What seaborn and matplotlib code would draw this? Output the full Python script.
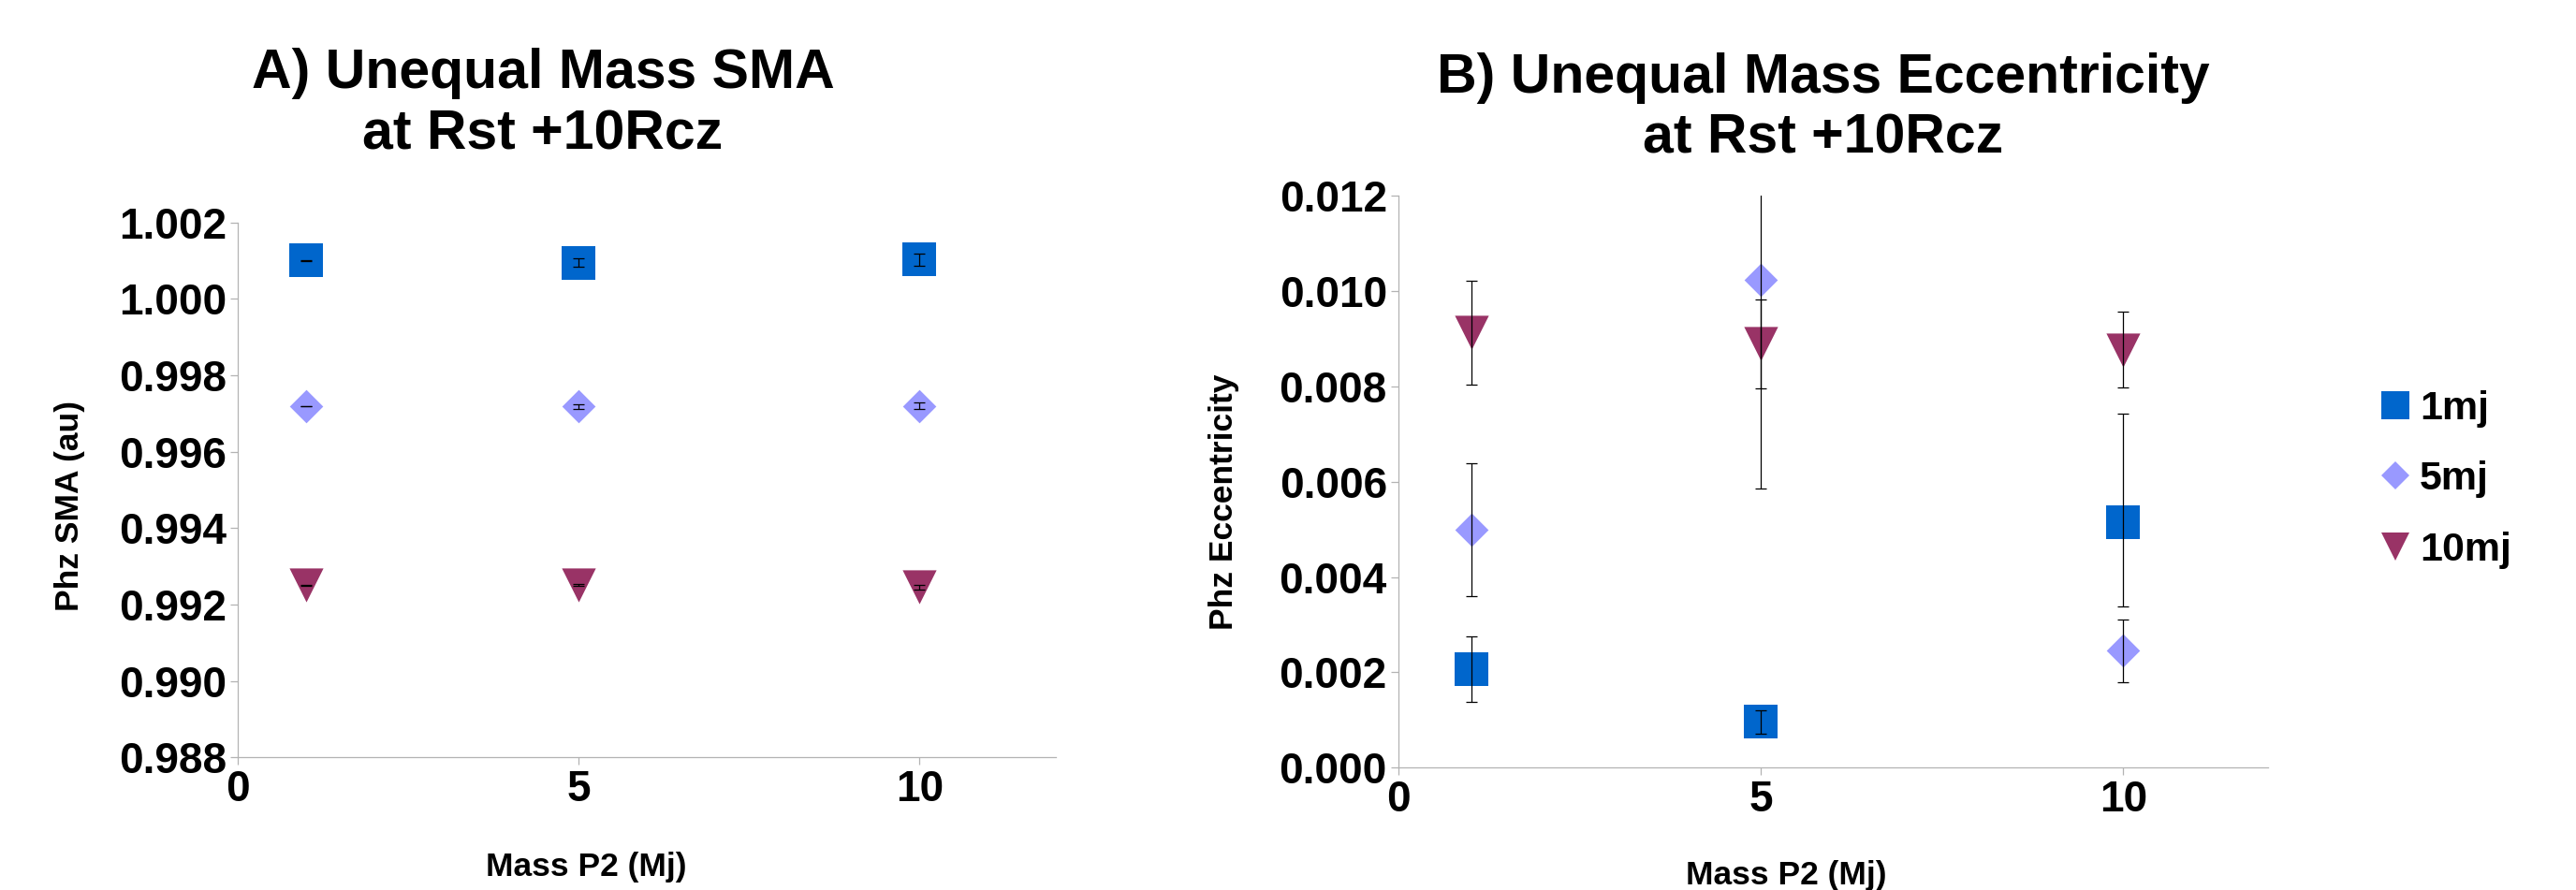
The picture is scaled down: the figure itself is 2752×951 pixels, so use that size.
import matplotlib
matplotlib.use("Agg")
import matplotlib.pyplot as plt
from matplotlib.lines import Line2D
from matplotlib.ticker import FormatStrFormatter, FixedLocator
import numpy as np
import pandas as pd
import seaborn as sns

# ---- data -------------------------------------------------------------
mass_p2 = [1, 5, 10]
series = ["1mj", "5mj", "10mj"]

sma_1mj = [1.00101, 1.00094, 1.00103]
sma_5mj = [0.99719, 0.99718, 0.99720]
sma_10mj = [0.99251, 0.99252, 0.99246]
sma_err_1mj = [0.00001, 0.00011, 0.00016]
sma_err_5mj = [0.00001, 0.00005, 0.00008]
sma_err_10mj = [0.00001, 0.00002, 0.00006]

ecc_1mj = [0.00207, 0.00096, 0.00514]
ecc_5mj = [0.00499, 0.01023, 0.00245]
ecc_10mj = [0.00913, 0.00889, 0.00877]
ecc_err_lo_1mj = [0.00069, 0.00024, 0.00176]
ecc_err_hi_1mj = [0.00069, 0.00024, 0.00228]
ecc_err_5mj = [0.00139, 0.00438, 0.00065]
ecc_err_10mj = [0.00109, 0.00093, 0.00079]

sma_ticks = [0.988, 0.990, 0.992, 0.994, 0.996, 0.998, 1.000, 1.002]
ecc_ticks = [0.000, 0.002, 0.004, 0.006, 0.008, 0.010, 0.012]
x_ticks = [0, 5, 10]

# ---- style ------------------------------------------------------------
colors = {"1mj": "#0066CC", "5mj": "#9999FF", "10mj": "#993366"}
markers = {"1mj": "s", "5mj": "D", "10mj": "v"}
marker_area = {"1mj": 670, "5mj": 330, "10mj": 680}

sns.set_style("white")
plt.rcParams["font.family"] = ["Liberation Sans", "DejaVu Sans"]
plt.rcParams["font.weight"] = "bold"
plt.rcParams["axes.labelweight"] = "bold"
plt.rcParams["text.color"] = "black"
plt.rcParams["axes.labelcolor"] = "black"
plt.rcParams["xtick.labelcolor"] = "black"
plt.rcParams["ytick.labelcolor"] = "black"

W, H = 2752, 951
fig = plt.figure(figsize=(W / 100, H / 100), dpi=100)


def px_axes(x0, x1, ytop, ybot):
    return fig.add_axes([x0 / W, 1 - ybot / H, (x1 - x0) / W, (ybot - ytop) / H])


ax_a = px_axes(254.3, 1128, 237.7, 809.3)
ax_b = px_axes(1494.3, 2423, 209, 820.3)

sma = {"1mj": (sma_1mj, sma_err_1mj), "5mj": (sma_5mj, sma_err_5mj),
       "10mj": (sma_10mj, sma_err_10mj)}
ecc = {"1mj": (ecc_1mj, [ecc_err_lo_1mj, ecc_err_hi_1mj]),
       "5mj": (ecc_5mj, ecc_err_5mj), "10mj": (ecc_10mj, ecc_err_10mj)}

for ax, table in ((ax_a, sma), (ax_b, ecc)):
    for name in series:
        vals, err = table[name]
        df = pd.DataFrame({"mass": mass_p2, "value": vals})
        sns.scatterplot(data=df, x="mass", y="value", ax=ax, marker=markers[name],
                        color=colors[name], s=marker_area[name], linewidth=0,
                        alpha=1, legend=False, zorder=3)
        ax.errorbar(mass_p2, vals, yerr=err, fmt="none", ecolor="black",
                    elinewidth=0.9, capsize=4.3, capthick=0.9, zorder=4)

# ---- axes -------------------------------------------------------------
for ax, ticks, ylab, fmt in ((ax_a, sma_ticks, "Phz SMA (au)", "%.3f"),
                             (ax_b, ecc_ticks, "Phz Eccentricity", "%.3f")):
    ax.set_xlim(0, 12)
    ax.set_ylim(ticks[0], ticks[-1])
    ax.xaxis.set_major_locator(FixedLocator(x_ticks))
    ax.yaxis.set_major_locator(FixedLocator(ticks))
    ax.yaxis.set_major_formatter(FormatStrFormatter(fmt))
    ax.xaxis.set_major_formatter(FormatStrFormatter("%d"))
    for side in ("top", "right"):
        ax.spines[side].set_visible(False)
    for side in ("left", "bottom"):
        ax.spines[side].set_color("#b3b3b3")
        ax.spines[side].set_linewidth(0.9)
    ax.tick_params(axis="both", which="major", direction="out", length=5.5,
                   width=0.9, color="#b3b3b3", labelsize=33, pad=3.5,
                   labelcolor="black", left=True, bottom=True)
    for lbl in ax.get_xticklabels() + ax.get_yticklabels():
        lbl.set_fontweight("bold")
    ax.set_xlabel("Mass P2 (Mj)", fontsize=25.5, fontweight="bold", color="black")
    ax.set_ylabel(ylab, fontsize=25.5, fontweight="bold", color="black")
    ax.xaxis.label.set_va("baseline")
    ax.yaxis.label.set_va("baseline")

ax_a.xaxis.set_label_coords(0.4254, -0.2211)
ax_a.yaxis.set_label_coords(-0.1945, 0.4694)
ax_b.xaxis.set_label_coords(0.4455, -0.204)
ax_b.yaxis.set_label_coords(-0.1909, 0.4651)

# ---- titles -----------------------------------------------------------
title_kw = dict(fontsize=42.5, fontweight="bold", ha="center", va="baseline",
                color="black")
fig.text(580 / W, 1 - 94 / H, "A) Unequal Mass SMA", **title_kw)
fig.text(580 / W, 1 - 159 / H, "at Rst +10Rcz", **title_kw)
fig.text(1948 / W, 1 - 99 / H, "B) Unequal Mass Eccentricity", **title_kw)
fig.text(1948 / W, 1 - 164 / H, "at Rst +10Rcz", **title_kw)

# ---- legend -----------------------------------------------------------
legend_ms = {"1mj": 21, "5mj": 15, "10mj": 21}
handles = [Line2D([], [], linestyle="none", marker=markers[n], color=colors[n],
                  markersize=legend_ms[n], markeredgewidth=0) for n in series]
fig.legend(handles, series, loc="upper left",
           bbox_to_anchor=(2543 / W, 1 - 417 / H), frameon=False,
           prop={"size": 31, "weight": "bold"}, handlelength=0.72,
           handletextpad=0.25, labelspacing=0.82, borderpad=0,
           borderaxespad=0, labelcolor="black")

fig.savefig("out.png", dpi=100, facecolor="white")
